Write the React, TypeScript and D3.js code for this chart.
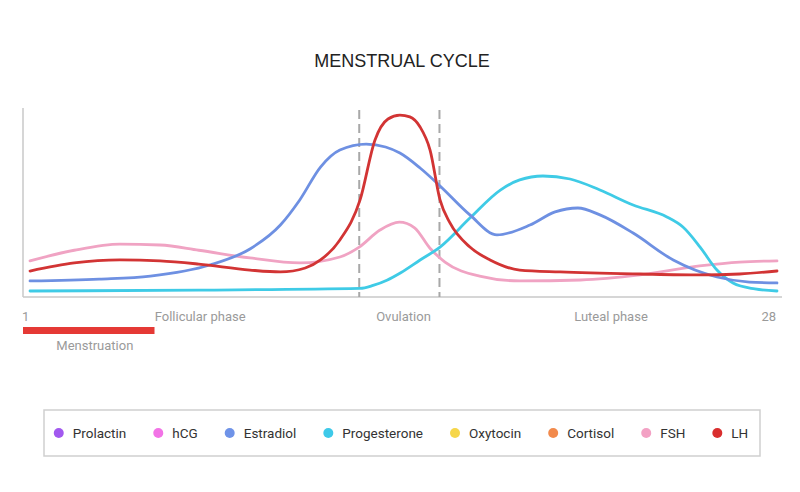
import React, { useEffect, useRef } from 'react';
import * as d3 from 'd3';

const WIDTH = 800;
const HEIGHT = 492;

// Cycle day -> relative hormone level (0-100)
const fshDays = [1, 2.6, 4.25, 5.7, 7.1, 8.95, 10.75, 12.2, 12.9, 13.65, 14.35, 14.9, 15.45, 16, 17.25, 18.7, 20.9, 23.05, 25.2, 26.65, 28];
const fshLevels = [19.3, 25, 28.3, 27.8, 25, 20.9, 18.2, 21.4, 26.7, 35.8, 40, 37, 26.2, 18.7, 11.2, 8.6, 9.1, 11.8, 16.6, 18.7, 19.3];

const lhDays = [1, 2.6, 4.25, 5.7, 7.1, 8.95, 10.05, 10.95, 11.5, 12.2, 12.93, 13.47, 13.94, 14.37, 14.73, 15.1, 15.46, 15.82, 16.18, 16.9, 17.63, 18.7, 20.16, 23.05, 25.2, 26.65, 28];
const lhLevels = [13.9, 18.2, 19.8, 19.3, 17.6, 14.4, 13.4, 15.5, 19.8, 30.5, 51.9, 84, 95.2, 97.3, 96.3, 90.9, 78.6, 51.9, 39.6, 26.7, 19.8, 14.4, 13.4, 12.3, 11.8, 12.3, 13.9];

const estradiolDays = [1, 3.5, 5.35, 7.5, 8.95, 10.05, 10.75, 11.5, 12.2, 13.15, 13.85, 14.37, 15.1, 15.82, 16.9, 17.88, 19.07, 19.98, 20.8, 21.6, 22.8, 24.25, 25.83, 27, 28];
const estradiolLevels = [8.6, 9.6, 11.2, 17.1, 25.7, 38.5, 51.9, 69.5, 78.6, 81.8, 80.2, 77, 69, 59.4, 43.9, 33.2, 38.5, 45.5, 47.6, 43.9, 34.2, 19.8, 10.7, 8, 7.5];

const progesteroneDays = [1, 7.1, 12.93, 13.4, 13.9, 14.4, 15.1, 15.82, 16.9, 18, 18.7, 19.54, 20.52, 21.6, 22.8, 24.02, 24.6, 25.22, 25.83, 26.41, 27.2, 28];
const progesteroneLevels = [3.2, 3.7, 4.6, 6.2, 9, 13, 19.8, 26.7, 42.2, 57.2, 62.6, 64.7, 63.1, 57.2, 49.2, 42.8, 37.4, 26.7, 14.4, 7.5, 4.3, 3.2];

const ovulationWindow = [12.9, 15.8];
const menstruationEnd = 5.5;
const phaseNames = ['Follicular phase', 'Ovulation', 'Luteal phase'];
const phaseCenters = [7.15, 14.5, 22];

const legendNames = ['Prolactin', 'hCG', 'Estradiol', 'Progesterone', 'Oxytocin', 'Cortisol', 'FSH', 'LH'];
const legendColors = ['#a259ef', '#f273e6', '#6f93e8', '#3ec9e9', '#f6d64a', '#f28a4c', '#f3a1c4', '#d92e2e'];

const FONT = 'Roboto, "Noto Sans", Arial, sans-serif';
const TITLE_FONT = '"Liberation Sans", Arial, sans-serif';

const App: React.FC = () => {
  const svgRef = useRef<SVGSVGElement>(null);

  useEffect(() => {
    document.body.style.margin = '0';
    if (!svgRef.current) return;

    const svg = d3.select(svgRef.current);
    svg.selectAll('*').remove();

    const x = d3.scaleLinear().domain([1, 28]).range([30, 777]);
    const y = d3.scaleLinear().domain([0, 100]).range([297, 110]);
    const axisLeft = 23;
    const axisRight = 782;

    // Title
    svg.append('text')
      .attr('x', 402)
      .attr('y', 67)
      .attr('text-anchor', 'middle')
      .attr('font-family', TITLE_FONT)
      .attr('font-size', '18px')
      .attr('fill', '#222')
      .text('MENSTRUAL CYCLE');

    // Axes (plain lines, no ticks)
    svg.append('line')
      .attr('x1', axisLeft).attr('x2', axisLeft)
      .attr('y1', 108).attr('y2', y(0))
      .attr('stroke', '#c9c9c9').attr('stroke-width', 1.5);
    svg.append('line')
      .attr('x1', axisLeft).attr('x2', axisRight)
      .attr('y1', y(0)).attr('y2', y(0))
      .attr('stroke', '#c9c9c9').attr('stroke-width', 1.5);

    // Ovulation window
    ovulationWindow.forEach((d) => {
      svg.append('line')
        .attr('x1', x(d)).attr('x2', x(d))
        .attr('y1', 110).attr('y2', y(0))
        .attr('stroke', '#a8a8a8')
        .attr('stroke-width', 2)
        .attr('stroke-dasharray', '9,5');
    });

    // Hormone curves
    const series = [
      { color: '#f0a3c3', days: fshDays, levels: fshLevels },
      { color: '#3fcbe6', days: progesteroneDays, levels: progesteroneLevels },
      { color: '#6e90e2', days: estradiolDays, levels: estradiolLevels },
      { color: '#d23434', days: lhDays, levels: lhLevels },
    ];
    const line = d3.line<[number, number]>()
      .x((d) => x(d[0]))
      .y((d) => y(d[1]))
      .curve(d3.curveMonotoneX);

    series.forEach((s) => {
      const pts = s.days.map((d, i) => [d, s.levels[i]] as [number, number]);
      svg.append('path')
        .attr('d', line(pts))
        .attr('fill', 'none')
        .attr('stroke', s.color)
        .attr('stroke-width', 2.8)
        .attr('stroke-linecap', 'round');
    });

    // Day labels and phases
    const labelY = 321;
    const grey = '#9a9a9a';
    svg.append('text')
      .attr('x', axisLeft - 1).attr('y', labelY)
      .attr('font-family', FONT).attr('font-size', '13px').attr('fill', grey)
      .text('1');
    svg.append('text')
      .attr('x', x(28) - 1).attr('y', labelY)
      .attr('text-anchor', 'end')
      .attr('font-family', FONT).attr('font-size', '13px').attr('fill', grey)
      .text('28');
    phaseNames.forEach((name, i) => {
      svg.append('text')
        .attr('x', x(phaseCenters[i])).attr('y', labelY)
        .attr('text-anchor', 'middle')
        .attr('font-family', FONT).attr('font-size', '13px').attr('fill', grey)
        .text(name);
    });

    // Menstruation bar
    svg.append('rect')
      .attr('x', axisLeft)
      .attr('y', 327)
      .attr('width', x(menstruationEnd) - axisLeft)
      .attr('height', 7)
      .attr('fill', '#e53935');
    svg.append('text')
      .attr('x', x(1.95)).attr('y', 350)
      .attr('font-family', FONT).attr('font-size', '13px').attr('fill', grey)
      .text('Menstruation');

    // Legend
    const box = { x: 44, y: 410, w: 716, h: 46 };
    svg.append('rect')
      .attr('x', box.x).attr('y', box.y)
      .attr('width', box.w).attr('height', box.h)
      .attr('fill', '#fff')
      .attr('stroke', '#cfcfcf')
      .attr('stroke-width', 1.5);

    const legendG = svg.append('g');
    const r = 5;
    const textGap = 9;
    const itemGap = 27;
    let cursor = 0;
    const cy = box.y + box.h / 2;
    legendNames.forEach((name, i) => {
      const item = legendG.append('g');
      item.append('circle')
        .attr('cx', cursor + r).attr('cy', cy).attr('r', r)
        .attr('fill', legendColors[i]);
      const t = item.append('text')
        .attr('x', cursor + 2 * r + textGap).attr('y', cy + 5)
        .attr('font-family', FONT).attr('font-size', '13.5px').attr('fill', '#333')
        .text(name);
      const w = (t.node() as SVGTextElement).getComputedTextLength();
      cursor += 2 * r + textGap + w + itemGap;
    });
    const total = cursor - itemGap;
    legendG.attr('transform', `translate(${box.x + (box.w - total) / 2 - 1},0)`);
  }, []);

  return (
    <svg
      ref={svgRef}
      width={WIDTH}
      height={HEIGHT}
      style={{ display: 'block', background: '#fff' }}
    />
  );
};

export default App;
